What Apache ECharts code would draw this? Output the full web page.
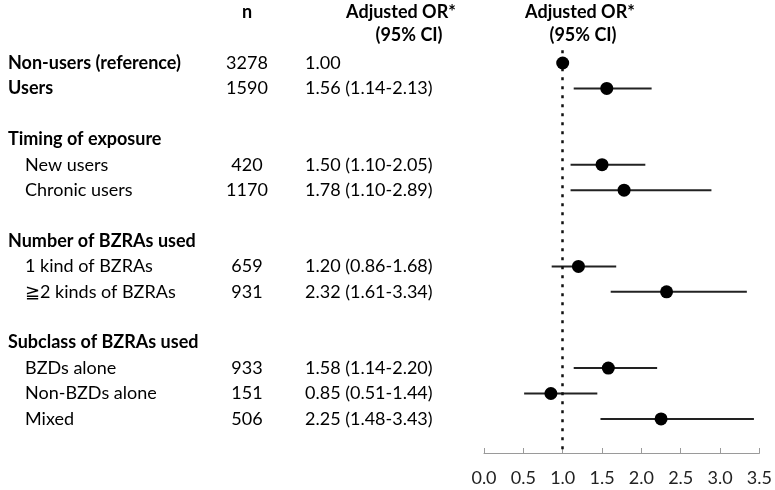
<!DOCTYPE html>
<html>
<head>
<meta charset="utf-8">
<script src="https://cdn.jsdelivr.net/npm/echarts@6/dist/echarts.min.js"></script>
<style>html,body{margin:0;padding:0;background:#fff}#c{width:775px;height:490px}</style>
</head>
<body>
<div id="c"></div>
<script>
// ---- data ----
var labels = ['Non-users (reference)','Users','Timing of exposure','New users','Chronic users','Number of BZRAs used','1 kind of BZRAs','\u22672 kinds of BZRAs','Subclass of BZRAs used','BZDs alone','Non-BZDs alone','Mixed'];
var kinds  = ['top','top','header','item','item','header','item','item','header','item','item','item'];
var nValues = [3278,1590,null,420,1170,null,659,931,null,933,151,506];
var orValues = [1.00,1.56,null,1.50,1.78,null,1.20,2.32,null,1.58,0.85,2.25];
var lowerCI = [null,1.14,null,1.10,1.10,null,0.86,1.61,null,1.14,0.51,1.48];
var upperCI = [null,2.13,null,2.05,2.89,null,1.68,3.34,null,2.20,1.44,3.43];
var refValue = 1.0;

// row indices: blank row before every header
var rows = [];
var r = -1;
for (var i = 0; i < labels.length; i++) {
  if (kinds[i] === 'header') r += 2; else r += 1;
  rows.push(r);
}
function fmt(v){return v.toFixed(2);}
var orText = orValues.map(function(v,i){
  if (v === null) return '';
  if (lowerCI[i] === null) return fmt(v);
  return fmt(v) + ' (' + fmt(lowerCI[i]) + '-' + fmt(upperCI[i]) + ')';
});

var FONT = 'Lato';
var FS = 18;
var YMIN = -0.5, YMAX = 15.34;

var textData = [];
for (var i = 0; i < labels.length; i++) textData.push([i, rows[i]]);

var ciData = [], ptData = [];
for (var i = 0; i < labels.length; i++) {
  if (orValues[i] === null) continue;
  ptData.push([orValues[i], rows[i]]);
  if (lowerCI[i] !== null) ciData.push([lowerCI[i], upperCI[i], rows[i]]);
}

function hdr(x, y, t){
  return {type: 'text', x: x, y: y, style: {text: t, font: 'bold ' + FS + 'px ' + FONT, fill: '#000', align: 'center', verticalAlign: 'middle'}};
}

var chart = echarts.init(document.getElementById('c'));
chart.setOption({
  animation: false,
  grid: [
    {left: 484, right: 10, top: 50.3, bottom: 37},
    {left: 0, width: 484, top: 50.3, bottom: 37}
  ],
  xAxis: [
    {gridIndex: 0, type: 'value', min: 0, max: 3.5, interval: 0.5, position: 'bottom',
     splitLine: {show: false},
     axisLine: {show: true, onZero: false, lineStyle: {color: '#9a9a9a', width: 1}},
     axisTick: {show: true, inside: true, length: 5, lineStyle: {color: '#9a9a9a'}},
     axisLabel: {fontFamily: FONT, fontSize: FS, color: '#222', margin: 16,
       formatter: function(v){return v.toFixed(1);}}},
    {gridIndex: 1, type: 'value', min: 0, max: 484, show: false}
  ],
  yAxis: [
    {gridIndex: 0, type: 'value', min: YMIN, max: YMAX, inverse: true, show: false},
    {gridIndex: 1, type: 'value', min: YMIN, max: YMAX, inverse: true, show: false}
  ],
  graphic: [
    hdr(247, 12, 'n'),
    hdr(401, 12, 'Adjusted OR*'),
    hdr(409, 35, '(95% CI)'),
    hdr(580, 12, 'Adjusted OR*'),
    hdr(583, 35, '(95% CI)')
  ],
  series: [
    {
      type: 'custom', xAxisIndex: 1, yAxisIndex: 1, data: textData, silent: true,
      renderItem: function(params, api){
        var i = api.value(0);
        var p = api.coord([0, api.value(1)]);
        var bold = kinds[i] !== 'item';
        var children = [{
          type: 'text', x: bold ? 8 : 25, y: p[1],
          style: {text: labels[i], font: (bold ? 'bold ' : '') + FS + 'px ' + FONT, fill: '#000', verticalAlign: 'middle', align: 'left'}
        }];
        if (nValues[i] !== null) {
          children.push({type: 'text', x: 247, y: p[1],
            style: {text: String(nValues[i]), font: FS + 'px ' + FONT, fill: '#000', verticalAlign: 'middle', align: 'center'}});
          children.push({type: 'text', x: 305, y: p[1],
            style: {text: orText[i], font: FS + 'px ' + FONT, fill: '#000', verticalAlign: 'middle', align: 'left'}});
        }
        return {type: 'group', children: children};
      }
    },
    {
      type: 'custom', xAxisIndex: 0, yAxisIndex: 0, data: ciData, silent: true,
      renderItem: function(params, api){
        var a = api.coord([api.value(0), api.value(2)]);
        var b = api.coord([api.value(1), api.value(2)]);
        return {type: 'line', shape: {x1: a[0], y1: a[1], x2: b[0], y2: b[1]},
          style: {stroke: '#222', lineWidth: 2}};
      },
      markLine: {
        silent: true, symbol: 'none', label: {show: false},
        lineStyle: {color: '#111', type: [3, 6], width: 2.5},
        data: [{xAxis: refValue}]
      }
    },
    {
      type: 'scatter', xAxisIndex: 0, yAxisIndex: 0, data: ptData, silent: true,
      symbol: 'circle', symbolSize: 13, itemStyle: {color: '#000', opacity: 1}, z: 5
    }
  ]
});
</script>
</body>
</html>
